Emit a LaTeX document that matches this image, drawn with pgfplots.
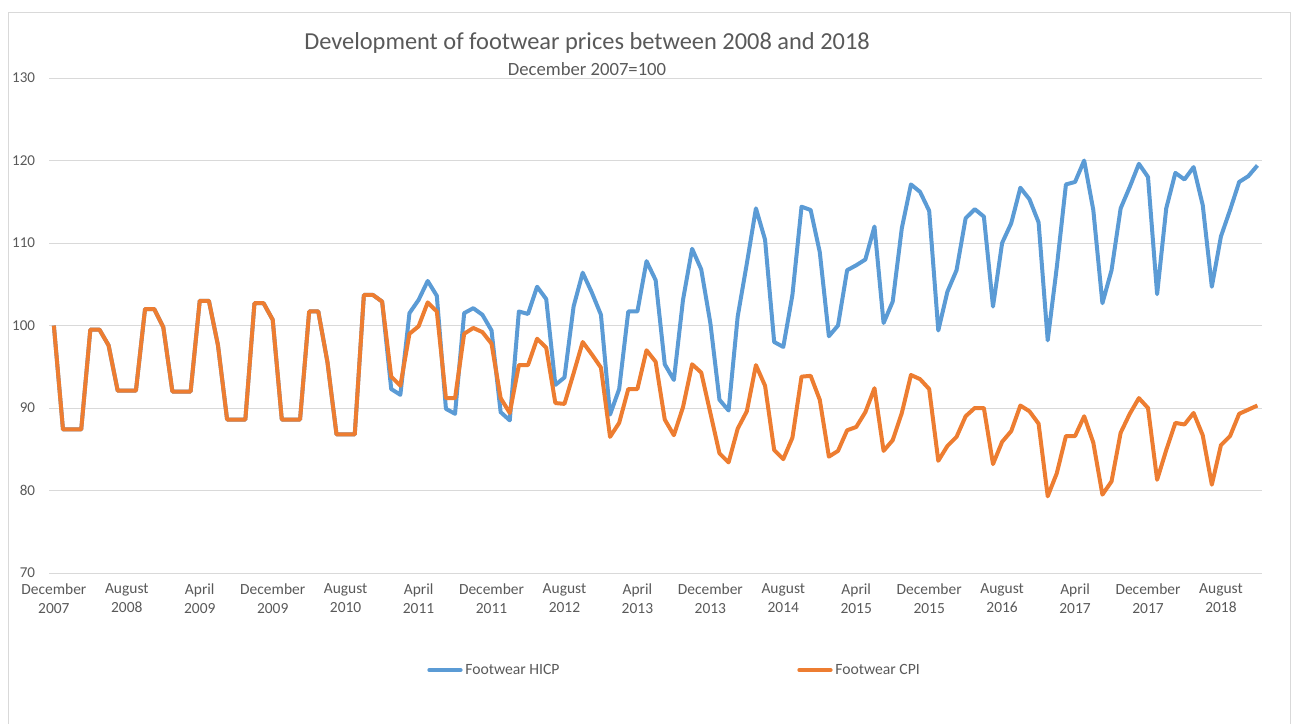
\documentclass[border=0pt]{standalone}
\usepackage{fontspec}
\setmainfont{Carlito}
\usepackage{pgfplots}
\pgfplotsset{compat=1.18}
\definecolor{hicp}{HTML}{5B9BD5}
\definecolor{cpi}{HTML}{ED7D31}
\definecolor{txt}{HTML}{595959}
\definecolor{gridc}{HTML}{D9D9D9}
\begin{document}
\begin{tikzpicture}
\useasboundingbox (0,0) rectangle (969.75pt,-543pt);
\draw[gridc, line width=0.75pt] (6pt,-560pt) -- (6pt,-9.75pt) -- (967.5pt,-9.75pt) -- (967.5pt,-560pt);
\node[text=txt, font=\fontsize{18.3}{22}\selectfont] at (440.25pt,-32.25pt) {Development of footwear prices between 2008 and 2018};
\node[text=txt, font=\fontsize{14}{17}\selectfont] at (440.25pt,-52pt) {December 2007=100};
\begin{axis}[
  at={(36.98pt,-429.75pt)}, anchor=south west,
  scale only axis, width=909.5pt, height=371.25pt,
  xmin=-0.5, xmax=132.5, ymin=70, ymax=130,
  ytick={70,80,...,130},
  xtick={0,8,...,128},
  xticklabels={December\\2007, August\\2008, April\\2009, December\\2009, August\\2010, April\\2011, December\\2011, August\\2012, April\\2013, December\\2013, August\\2014, April\\2015, December\\2015, August\\2016, April\\2017, December\\2017, August\\2018},
  xticklabel style={align=center, font=\fontsize{11.6}{14.25}\selectfont, text=txt, anchor=north, inner sep=0pt, yshift=-7.5pt},
  yticklabel style={anchor=east, inner sep=0pt, xshift=-10.5pt, font=\fontsize{11.3}{14}\selectfont, text=txt},
  /pgf/number format/assume math mode=true,
  major tick length=0pt,
  axis line style={draw=none},
  ymajorgrids, grid style={gridc, line width=0.75pt},
  legend columns=2,
  legend style={draw=none, fill=none, at={(0.3082,-0.196)}, anchor=west, font=\fontsize{11.75}{14}\selectfont, text=txt, column sep=0pt, nodes={inner sep=0pt}},
  legend image code/.code={\draw[#1, line width=3pt, line cap=round] (1.5pt,0pt) -- (25pt,0pt); \path (27pt,0pt);},
  every axis plot/.append style={line width=3pt, line join=round, mark=none},
]
\addplot[hicp] coordinates {
(0,100) (1,87.4) (2,87.4) (3,87.4) (4,99.5) (5,99.5) (6,97.6) (7,92.1) (8,92.1) (9,92.1)
(10,102.0) (11,102.0) (12,99.8) (13,92.0) (14,92.0) (15,92.0) (16,103.0) (17,103.0) (18,97.6) (19,88.6)
(20,88.6) (21,88.6) (22,102.7) (23,102.7) (24,100.7) (25,88.6) (26,88.6) (27,88.6) (28,101.7) (29,101.7)
(30,95.6) (31,86.8) (32,86.8) (33,86.8) (34,103.7) (35,103.7) (36,102.9) (37,92.3) (38,91.6) (39,101.5)
(40,103.1) (41,105.4) (42,103.6) (43,89.9) (44,89.3) (45,101.5) (46,102.1) (47,101.3) (48,99.4) (49,89.5)
(50,88.5) (51,101.7) (52,101.4) (53,104.7) (54,103.2) (55,92.8) (56,93.7) (57,102.3) (58,106.4) (59,104.0)
(60,101.3) (61,89.2) (62,92.3) (63,101.7) (64,101.7) (65,107.8) (66,105.5) (67,95.3) (68,93.4) (69,103.1)
(70,109.3) (71,106.8) (72,100.3) (73,91.0) (74,89.7) (75,101.1) (76,107.5) (77,114.2) (78,110.4) (79,98.0)
(80,97.4) (81,103.7) (82,114.4) (83,114.0) (84,108.9) (85,98.7) (86,100.0) (87,106.7) (88,107.3) (89,108.0)
(90,112.0) (91,100.3) (92,102.9) (93,111.8) (94,117.1) (95,116.2) (96,113.9) (97,99.4) (98,104.1) (99,106.7)
(100,113.0) (101,114.1) (102,113.2) (103,102.3) (104,110.0) (105,112.4) (106,116.7) (107,115.3) (108,112.5) (109,98.2)
(110,107.1) (111,117.1) (112,117.4) (113,120.0) (114,114.0) (115,102.7) (116,106.7) (117,114.2) (118,116.8) (119,119.6)
(120,118.0) (121,103.8) (122,114.2) (123,118.5) (124,117.7) (125,119.2) (126,114.6) (127,104.7) (128,110.8) (129,114.0)
(130,117.4) (131,118.1) (132,119.4)
};
\addlegendentry{\makebox[249pt][l]{Footwear HICP}}
\addplot[cpi] coordinates {
(0,100) (1,87.4) (2,87.4) (3,87.4) (4,99.5) (5,99.5) (6,97.6) (7,92.1) (8,92.1) (9,92.1)
(10,102.0) (11,102.0) (12,99.8) (13,92.0) (14,92.0) (15,92.0) (16,103.0) (17,103.0) (18,97.6) (19,88.6)
(20,88.6) (21,88.6) (22,102.7) (23,102.7) (24,100.7) (25,88.6) (26,88.6) (27,88.6) (28,101.7) (29,101.7)
(30,95.6) (31,86.8) (32,86.8) (33,86.8) (34,103.7) (35,103.7) (36,102.9) (37,93.8) (38,92.7) (39,99.0)
(40,99.9) (41,102.8) (42,101.7) (43,91.2) (44,91.2) (45,99.0) (46,99.7) (47,99.2) (48,97.8) (49,91.2)
(50,89.4) (51,95.2) (52,95.2) (53,98.4) (54,97.3) (55,90.6) (56,90.5) (57,94.2) (58,98.0) (59,96.5)
(60,94.9) (61,86.5) (62,88.2) (63,92.3) (64,92.3) (65,97.0) (66,95.6) (67,88.6) (68,86.7) (69,90.1)
(70,95.3) (71,94.3) (72,89.4) (73,84.5) (74,83.4) (75,87.5) (76,89.6) (77,95.2) (78,92.7) (79,84.9)
(80,83.8) (81,86.4) (82,93.8) (83,93.9) (84,91.0) (85,84.1) (86,84.8) (87,87.3) (88,87.7) (89,89.5)
(90,92.4) (91,84.8) (92,86.1) (93,89.4) (94,94.0) (95,93.5) (96,92.3) (97,83.6) (98,85.4) (99,86.5)
(100,89.0) (101,90.0) (102,90.0) (103,83.2) (104,85.9) (105,87.2) (106,90.3) (107,89.6) (108,88.1) (109,79.3)
(110,82.1) (111,86.6) (112,86.6) (113,89.0) (114,85.8) (115,79.5) (116,81.1) (117,87.0) (118,89.3) (119,91.2)
(120,90.0) (121,81.3) (122,84.9) (123,88.2) (124,88.0) (125,89.4) (126,86.7) (127,80.7) (128,85.5) (129,86.6)
(130,89.3) (131,89.8) (132,90.3)
};
\addlegendentry{Footwear CPI}
\end{axis}
\end{tikzpicture}
\end{document}
